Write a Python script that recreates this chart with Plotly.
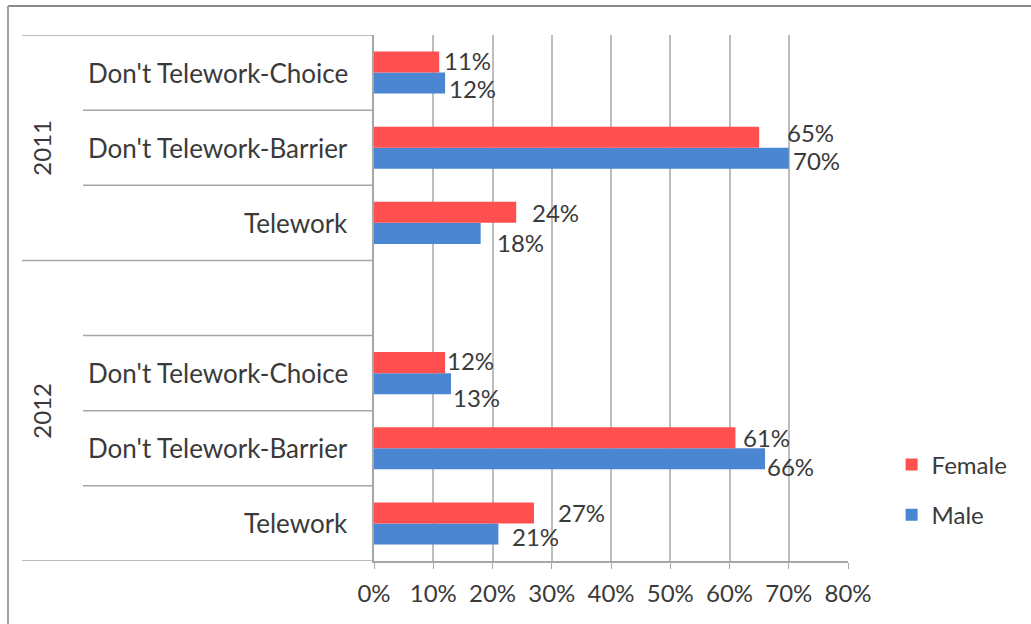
import plotly.graph_objects as go

# Survey shares by gender, grouped by year
years = ["2011", "2012"]
categories = ["Don't Telework-Choice", "Don't Telework-Barrier", "Telework"]
female_2011 = [0.11, 0.65, 0.24]
male_2011 = [0.12, 0.70, 0.18]
female_2012 = [0.12, 0.61, 0.27]
male_2012 = [0.13, 0.66, 0.21]
x_ticks = [0.0, 0.1, 0.2, 0.3, 0.4, 0.5, 0.6, 0.7, 0.8]

RED = "#FF4F4F"
BLUE = "#4A86D2"
GRID = "#BDBDBD"
TXT = "#3A3A3A"
FONT = "Lato"
FS = 24
FS_CAT = 26

# Row slots from top: 2011 rows, an empty row, then 2012 rows
slot_2011 = [6, 5, 4]
slot_2012 = [2, 1, 0]
rows = slot_2011 + slot_2012
female = female_2011 + female_2012
male = male_2011 + male_2012

# label nudges (pixels) for female / male value labels
f_dx = [3, 26, 14, 0, 6, 22]
f_dy = [2, 5, 0, 2, 0, 0]
m_dx = [2, 2, 14, 0, 0, 12]
m_dy = [-5, -2, -9, -14, -8, -3]

fig = go.Figure()
# Male is added first so that the Female bar sits on top within each row
fig.add_trace(go.Bar(name="Male", y=rows, x=male, orientation="h",
                     legendgroup="m", legendrank=2,
                     marker=dict(color=BLUE, line=dict(width=0))))
fig.add_trace(go.Bar(name="Female", y=rows, x=female, orientation="h",
                     legendgroup="f", legendrank=1,
                     marker=dict(color=RED, line=dict(width=0))))

ann = []
for i, r in enumerate(rows):
    ann.append(dict(x=female[i], y=r + 0.14, xref="x", yref="y",
                    text=f"{round(female[i]*100)}%", showarrow=False,
                    xanchor="left", yanchor="middle", xshift=f_dx[i], yshift=f_dy[i],
                    font=dict(family=FONT, size=FS, color=TXT)))
    ann.append(dict(x=male[i], y=r - 0.14, xref="x", yref="y",
                    text=f"{round(male[i]*100)}%", showarrow=False,
                    xanchor="left", yanchor="middle", xshift=m_dx[i], yshift=m_dy[i],
                    font=dict(family=FONT, size=FS, color=TXT)))

# category labels on the left
for slots in (slot_2011, slot_2012):
    for c, s in zip(categories, slots):
        ann.append(dict(x=0, y=s, xref="x", yref="y", text=c, showarrow=False,
                        xanchor="right", yanchor="middle", xshift=-24,
                        font=dict(family=FONT, size=FS_CAT, color=TXT)))

# year labels, rotated
ann.append(dict(x=0, y=5, xref="x", yref="y", text=years[0], showarrow=False,
                textangle=-90, xanchor="center", yanchor="middle", xshift=-332,
                font=dict(family=FONT, size=FS, color=TXT)))
ann.append(dict(x=0, y=1.5, xref="x", yref="y", text=years[1], showarrow=False,
                textangle=-90, xanchor="center", yanchor="middle", xshift=-332,
                font=dict(family=FONT, size=FS, color=TXT)))

# separators between category rows
shapes = []
plot_l, plot_w = 374, 474
def px_to_paper(px):
    return (px - plot_l) / plot_w

long_x0 = px_to_paper(22)
short_x0 = px_to_paper(83)
for b, long in [(6.5, True), (5.5, False), (4.5, False), (3.5, True),
                (2.5, False), (1.5, False), (0.5, False), (-0.5, True)]:
    shapes.append(dict(type="line", xref="paper", yref="y",
                       x0=long_x0 if long else short_x0, x1=0, y0=b, y1=b,
                       line=dict(color="#A6A6A6", width=1.5)))

# outer chart frame
shapes.append(dict(type="line", xref="paper", yref="paper",
                   x0=px_to_paper(8), x1=px_to_paper(1040), y0=1 + 29 / 526, y1=1 + 29 / 526,
                   line=dict(color="#8C8C8C", width=2)))
shapes.append(dict(type="line", xref="paper", yref="paper",
                   x0=px_to_paper(8), x1=px_to_paper(8), y0=1 + 29 / 526, y1=-0.2,
                   line=dict(color="#A0A0A0", width=2)))

fig.update_layout(
    width=1031, height=624,
    margin=dict(l=374, r=183, t=35, b=63),
    paper_bgcolor="white", plot_bgcolor="white",
    barmode="group", bargap=0.44, bargroupgap=0,
    font=dict(family=FONT, size=FS, color=TXT),
    showlegend=True,
    legend=dict(x=1.092, y=0.135, xanchor="left", yanchor="middle",
                traceorder="grouped", font=dict(family=FONT, size=FS, color=TXT),
                itemwidth=30, tracegroupgap=16, bgcolor="rgba(0,0,0,0)"),
    xaxis=dict(range=[0, 0.8], tickvals=x_ticks, tickformat=".0%",
               showgrid=True, gridcolor=GRID, gridwidth=1.5,
               showline=True, linecolor="#A6A6A6", linewidth=1.5,
               ticks="outside", ticklen=6, tickcolor="#A6A6A6",
               zeroline=False, ticklabelstandoff=4,
               tickfont=dict(family=FONT, size=FS, color=TXT), fixedrange=True),
    yaxis=dict(range=[-0.5, 6.5], showticklabels=False, showgrid=False,
               zeroline=False, showline=True, linecolor="#A6A6A6", linewidth=1.5,
               fixedrange=True),
    annotations=ann, shapes=shapes,
)

fig.write_html("out.html")
